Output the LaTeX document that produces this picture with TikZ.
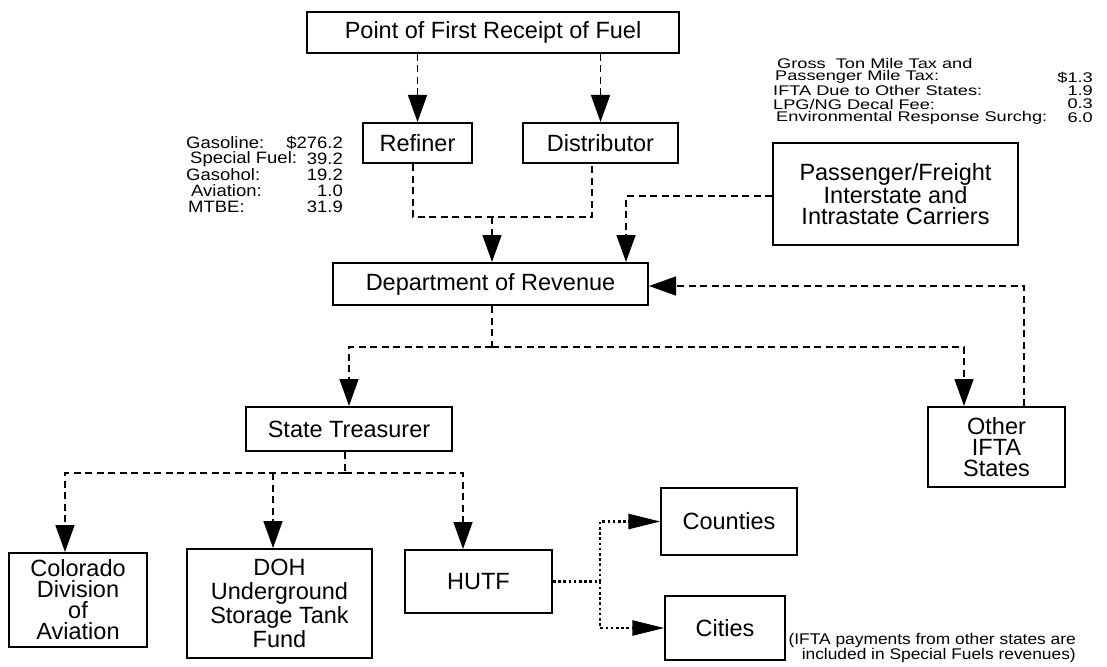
\documentclass[tikz,border=0pt]{standalone}
\usepackage{fontspec}
\setmainfont{Liberation Sans}
\newfontfamily\widefont[FakeStretch=1.12]{Liberation Sans}
\newfontfamily\widerfont[FakeStretch=1.3]{Liberation Sans}
\usetikzlibrary{arrows.meta}
\begin{document}
\begin{tikzpicture}[x=1pt,y=-1pt,
  box/.style={draw, line width=2pt, inner sep=0pt, align=center,
    font=\fontsize{23.5}{21}\selectfont},
  thinbox/.style={box, line width=1.3pt},
  dsh/.style={line width=1.5pt, dash pattern=on 7pt off 4.5pt},
  arr/.style={-{Triangle[length=27pt,width=19pt]}},
  dotl/.style={line width=2.6pt, dash pattern=on 2.6pt off 2.6pt},
  darr/.style={-{Triangle[length=32pt,width=15pt]}},
  small/.style={inner sep=0pt, font=\widefont\fontsize{16.5}{14}\selectfont},
  tiny/.style={inner sep=0pt, font=\widerfont\fontsize{14}{13}\selectfont},
  note/.style={inner sep=0pt, align=right, font=\widefont\fontsize{15.5}{15}\selectfont}]
\useasboundingbox (0,0) rectangle (1107,666);

% boxes
\node[box, minimum width=372pt, minimum height=41pt] (point) at (493,32.5) {Point of First Receipt of Fuel};
\node[box, minimum width=109pt, minimum height=40pt] (refiner) at (417.5,143) {Refiner};
\node[box, minimum width=155pt, minimum height=40pt] (distributor) at (600.5,143) {Distributor};
\node[box, minimum width=315pt, minimum height=42pt] (dept) at (490.5,284) {Department of Revenue};
\node[box, minimum width=245pt, minimum height=102pt] (passenger) at (895.5,194) {Passenger/Freight\\Interstate and\\Intrastate Carriers};
\node[box, minimum width=206pt, minimum height=44pt] (treasurer) at (349,429) {State Treasurer};
\node[box, minimum width=137pt, minimum height=80pt] (other) at (996.5,447) {Other\\IFTA\\States};
\node[box, minimum width=138pt, minimum height=94pt] (colorado) at (78,600) {Colorado\\Division\\of\\Aviation};
\node[box, minimum width=185pt, minimum height=109pt, font=\fontsize{23.5}{24}\selectfont] (doh) at (279.5,603.5) {DOH\\Underground\\Storage Tank\\Fund};
\node[box, minimum width=147pt, minimum height=63pt] (hutf) at (478.5,581.5) {HUTF};
\node[thinbox, minimum width=136pt, minimum height=67pt] (counties) at (729,521.5) {Counties};
\node[thinbox, minimum width=120pt, minimum height=64pt] (cities) at (725,628) {Cities};

% left revenue figures
\node[small, anchor=west] (gas) at (186,143) {Gasoline:};
\node[small, anchor=east] (gasv) at (343,143) {\$276.2};
\node[small, anchor=west] (spf) at (190,159) {Special Fuel:};
\node[small, anchor=east] (spfv) at (343,159) {39.2};
\node[small, anchor=west] (gsh) at (186,175) {Gasohol:};
\node[small, anchor=east] (gshv) at (343,175) {19.2};
\node[small, anchor=west] (avi) at (191,191) {Aviation:};
\node[small, anchor=east] (aviv) at (343,191) {1.0};
\node[small, anchor=west] (mtbe) at (188,207) {MTBE:};
\node[small, anchor=east] (mtbev) at (343,207) {31.9};

% right revenue figures
\node[tiny, anchor=west] (gtm) at (777,63) {Gross\ \ Ton Mile Tax and};
\node[tiny, anchor=west] (pmt) at (775,77) {Passenger Mile Tax:};
\node[tiny, anchor=east] (pmtv) at (1093,78) {\$1.3};
\node[tiny, anchor=west] (ifta) at (773,90.5) {IFTA Due to Other States:};
\node[tiny, anchor=east] (iftav) at (1093,91) {1.9};
\node[tiny, anchor=west] (lpg) at (773,104) {LPG/NG Decal Fee:};
\node[tiny, anchor=east] (lpgv) at (1093,104) {0.3};
\node[tiny, anchor=west] (env) at (776,117.5) {Environmental Response Surchg:};
\node[tiny, anchor=east] (envv) at (1093,117.5) {6.0};

% note
\node[note, anchor=east] (noteA) at (1076,648) {(IFTA payments from other states are\\included in Special Fuels revenues)};

% connectors
\draw[dsh,arr] (point.south -| refiner.north) -- (refiner.north);
\draw[dsh,arr] (point.south -| distributor.north) -- (distributor.north);
\coordinate (j1) at (492,217);
\draw[dsh] ([xshift=-4.5pt]refiner.south) |- (j1) -| ([xshift=-8.5pt]distributor.south);
\draw[dsh,arr] (j1) -- (j1 |- dept.north);
\draw[dsh,arr] ([yshift=-2pt]passenger.west) -| ([xshift=135.5pt]dept.north);

\coordinate (j2) at (492,347);
\draw[dsh] (dept.south -| j2) -- (j2);
\draw[dsh,arr] (j2) -| (treasurer.north);
\draw[dsh,arr] (j2) -| ([xshift=-32.5pt]other.north);
\draw[dsh,arr] ([xshift=27.5pt]other.north) |- ([yshift=-2pt]dept.east);

\coordinate (j3) at (345,473);
\coordinate (colTop) at ([xshift=-13pt]colorado.north);
\coordinate (dohTop) at ([xshift=-6.5pt]doh.north);
\coordinate (hutfTop) at ([xshift=-15.5pt]hutf.north);
\draw[dsh] (treasurer.south -| j3) -- (j3);
\draw[dsh,arr] (j3) -| (colTop);
\draw[dsh,arr] (j3) -| (hutfTop);
\draw[dsh,arr] (dohTop |- j3) -- (dohTop);

\coordinate (j4) at (600,581.5);
\draw[dotl] (hutf.east) -- (j4);
\draw[dotl,darr] (j4) |- (counties.west);
\draw[dotl,darr] (j4) |- (cities.west);
\end{tikzpicture}
\end{document}
